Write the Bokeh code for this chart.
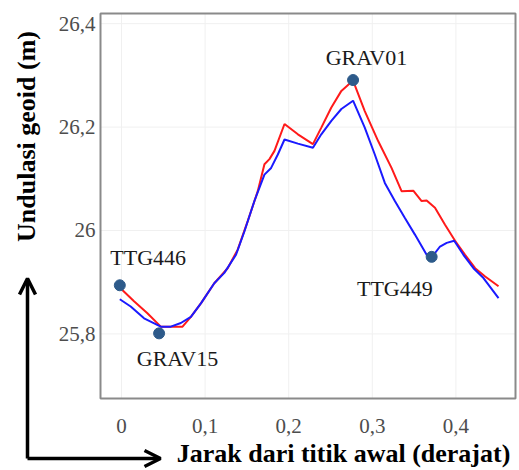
from math import pi
from bokeh.plotting import figure
from bokeh.models import Range1d, FixedTicker, Label, Arrow, OpenHead
from bokeh.embed import file_html
from bokeh.resources import INLINE
from bokeh.core.properties import value

# ---- data ----
red_x = [0.001, 0.015, 0.031, 0.047, 0.073, 0.083, 0.095, 0.111, 0.127, 0.139,
         0.151, 0.163, 0.171, 0.177, 0.183, 0.195, 0.211, 0.229, 0.239, 0.251,
         0.263, 0.277, 0.291, 0.307, 0.323, 0.335, 0.349, 0.359, 0.365, 0.375,
         0.387, 0.399, 0.411, 0.423, 0.435, 0.451]
red_y = [25.885, 25.863, 25.840, 25.814, 25.814, 25.833, 25.859, 25.898, 25.927, 25.963,
         26.018, 26.076, 26.128, 26.138, 26.154, 26.206, 26.186, 26.167, 26.199, 26.238,
         26.270, 26.290, 26.231, 26.173, 26.121, 26.076, 26.077, 26.057, 26.058, 26.044,
         26.011, 25.980, 25.953, 25.927, 25.911, 25.892]

blue_x = [-0.002, 0.011, 0.027, 0.047, 0.059, 0.071, 0.083, 0.095, 0.111, 0.123,
          0.137, 0.147, 0.159, 0.171, 0.179, 0.187, 0.195, 0.211, 0.229, 0.239,
          0.251, 0.263, 0.277, 0.291, 0.303, 0.315, 0.327, 0.339, 0.351, 0.365,
          0.371, 0.381, 0.389, 0.398, 0.409, 0.421, 0.433, 0.451]
blue_y = [25.867, 25.853, 25.830, 25.814, 25.814, 25.821, 25.833, 25.859, 25.898, 25.918,
          25.953, 25.998, 26.057, 26.108, 26.121, 26.147, 26.176, 26.168, 26.160, 26.186,
          26.212, 26.235, 26.251, 26.199, 26.147, 26.092, 26.057, 26.024, 25.992, 25.953,
          25.948, 25.969, 25.976, 25.980, 25.953, 25.927, 25.908, 25.869]

pt_names = ["TTG446", "GRAV15", "GRAV01", "TTG449"]
pt_x = [-0.002, 0.045, 0.277, 0.371]
pt_y = [25.894, 25.801, 26.291, 25.949]
lbl_x = [0.032, 0.067, 0.293, 0.327]
lbl_y = [25.948, 25.752, 26.335, 25.888]

x_ticks = [0, 0.1, 0.2, 0.3, 0.4]
x_tick_labels = ["0", "0,1", "0,2", "0,3", "0,4"]
y_ticks = [25.8, 26.0, 26.2, 26.4]
y_tick_labels = ["25,8", "26", "26,2", "26,4"]

x_title = "Jarak dari titik awal (derajat)"
y_title = "Undulasi geoid (m)"

# axis limits of the plot panel
x_lo, x_hi = -0.0251, 0.4713
y_lo, y_hi = 25.675, 26.4197

# ---- layout (canvas pixels) ----
W, H = 519, 470
PL, PR, PT, PB = 100, 515, 13, 398          # panel box on the canvas
dx = (x_hi - x_lo) / (PR - PL)
dy = (y_hi - y_lo) / (PB - PT)


def cx(px):
    return x_lo + (px - PL) * dx


def cy(py):
    return y_hi - (py - PT) * dy


SERIF = "Liberation Serif"

p = figure(width=W, height=H, output_backend="svg", toolbar_location=None,
           x_range=Range1d(cx(0), cx(W)), y_range=Range1d(cy(H), cy(0)),
           min_border=0)
p.outline_line_color = None
p.grid.visible = False

# axes pinned to the panel edges
p.xaxis.fixed_location = y_lo
p.yaxis.fixed_location = x_lo
for ax, ticks, labels in ((p.xaxis[0], x_ticks, x_tick_labels),
                          (p.yaxis[0], y_ticks, y_tick_labels)):
    ax.ticker = FixedTicker(ticks=ticks)
    ax.major_label_overrides = dict(zip(ticks, labels))
    ax.major_label_text_font = SERIF
    ax.major_label_text_font_size = "21px"
    ax.major_label_text_color = "#4d4d4d"
    ax.major_tick_line_color = None
    ax.minor_tick_line_color = None
    ax.major_tick_out = 0
    ax.major_tick_in = 0
    ax.minor_tick_out = 0
    ax.axis_line_color = None
p.xaxis.major_label_standoff = 20
p.yaxis.major_label_standoff = 5

# faint grid inside the panel
p.segment(x0=x_ticks, y0=[y_lo] * len(x_ticks), x1=x_ticks, y1=[y_hi] * len(x_ticks),
          line_color="#f0f0f0", line_width=1)
p.segment(x0=[x_lo] * len(y_ticks), y0=y_ticks, x1=[x_hi] * len(y_ticks), y1=y_ticks,
          line_color="#f0f0f0", line_width=1)

# panel border
p.quad(left=[x_lo], right=[x_hi], bottom=[y_lo], top=[y_hi], fill_color=None,
       line_color="#8a8a8a", line_width=2)

p.line(red_x, red_y, line_color="#ff1a1a", line_width=2)
p.line(blue_x, blue_y, line_color="#1a1aff", line_width=2)
p.scatter(pt_x, pt_y, size=11, fill_color="#2d5a8a", line_color="#2d5a8a")
p.text(x=lbl_x, y=lbl_y, text=pt_names, text_font=value(SERIF),
       text_font_size="22px", text_align="center", text_baseline="middle",
       text_color="#1a1a1a")

# axis titles
p.add_layout(Label(x=cx(343), y=cy(453), text=x_title,
                   text_font=SERIF, text_font_size="26px", text_font_style="bold",
                   text_align="center", text_baseline="middle", text_color="black"))
p.add_layout(Label(x=cx(26), y=cy(136), text=y_title, angle=pi / 2,
                   text_font=SERIF, text_font_size="26px", text_font_style="bold",
                   text_align="center", text_baseline="middle", text_color="black"))

# L-shaped arrows
head_kw = dict(size=16, line_width=3.5, line_color="black")
p.add_layout(Arrow(x_start=cx(27), y_start=cy(458), x_end=cx(27), y_end=cy(278),
                   end=OpenHead(**head_kw), line_width=3.5, line_color="black"))
p.add_layout(Arrow(x_start=cx(27), y_start=cy(458), x_end=cx(160), y_end=cy(458),
                   end=OpenHead(**head_kw), line_width=3.5, line_color="black"))

open("out.html", "w").write(file_html(p, INLINE))
